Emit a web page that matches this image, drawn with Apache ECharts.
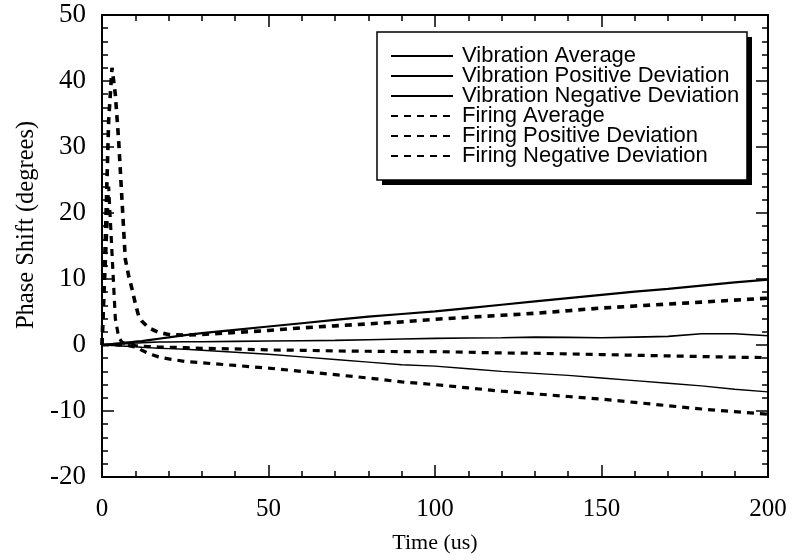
<!DOCTYPE html>
<html>
<head>
<meta charset="utf-8">
<script src="https://cdn.jsdelivr.net/npm/echarts@6/dist/echarts.min.js"></script>
<style>
  html, body { margin: 0; background: #fff; }
  #chart { width: 794px; height: 560px; }
</style>
</head>
<body>
<div id="chart"></div>
<script>
// time samples (us), shared by every series
var time = [0, 1, 2, 3, 4, 5, 6, 7, 8, 9, 10, 11, 12, 14, 17, 20, 25, 30, 40, 50,
            60, 70, 80, 90, 100, 110, 120, 130, 140, 150, 160, 170, 180, 190, 200];

// phase shift (degrees)
var vibAvg = [0, 0, 0.05, 0.1, 0.1, 0.15, 0.15, 0.2, 0.2, 0.25, 0.3, 0.3, 0.35, 0.4, 0.45, 0.45, 0.5, 0.5, 0.55, 0.6,
              0.65, 0.7, 0.8, 0.9, 1.0, 1.05, 1.1, 1.2, 1.15, 1.1, 1.2, 1.3, 1.7, 1.7, 1.4];
var vibPos = [0, 0.05, 0.1, 0.15, 0.2, 0.25, 0.3, 0.35, 0.4, 0.45, 0.5, 0.55, 0.6, 0.75, 0.95, 1.15, 1.5, 1.8, 2.3, 2.8,
              3.3, 3.8, 4.3, 4.7, 5.1, 5.6, 6.1, 6.6, 7.1, 7.6, 8.1, 8.5, 9.0, 9.5, 9.9];
var vibNeg = [0, -0.05, -0.05, -0.1, -0.1, -0.15, -0.15, -0.2, -0.2, -0.25, -0.25, -0.3, -0.35, -0.4, -0.5, -0.55, -0.65, -0.8, -1.1, -1.4,
              -1.8, -2.2, -2.6, -3.0, -3.2, -3.6, -4.0, -4.3, -4.6, -5.0, -5.4, -5.8, -6.2, -6.7, -7.1];
var firAvg = [0, 12, 24, 14, 4, 1.2, 0.4, 0.2, 0.1, 0, -0.1, -0.15, -0.2, -0.25, -0.3, -0.35, -0.4, -0.5, -0.6, -0.75,
              -0.8, -0.9, -0.95, -1.0, -1.0, -1.1, -1.2, -1.25, -1.35, -1.45, -1.55, -1.65, -1.75, -1.85, -1.9];
var firPos = [0, 16, 34, 42, 38, 31, 22, 13, 10.5, 8.5, 6.3, 4.4, 3.6, 2.6, 1.9, 1.6, 1.5, 1.6, 1.9, 2.2,
              2.6, 2.9, 3.2, 3.5, 3.9, 4.2, 4.5, 4.8, 5.2, 5.6, 5.9, 6.2, 6.5, 6.8, 7.1];
var firNeg = [0, 0, 0, 0, 0, 0, 0, 0, -0.1, -0.2, -0.3, -0.5, -0.8, -1.3, -1.8, -2.1, -2.5, -2.7, -3.1, -3.5,
              -4.0, -4.5, -5.0, -5.6, -6.0, -6.5, -7.0, -7.4, -7.8, -8.2, -8.7, -9.2, -9.7, -10.1, -10.5];

var names = ['Vibration Average', 'Vibration Positive Deviation', 'Vibration Negative Deviation',
             'Firing Average', 'Firing Positive Deviation', 'Firing Negative Deviation'];

function pairs(ys) {
    return time.map(function (t, i) { return [t, ys[i]]; });
}

function mkSeries(name, ys, width, dashed) {
    return {
        name: name,
        type: 'line',
        data: pairs(ys),
        symbol: 'none',
        animation: false,
        lineStyle: {
            color: '#000',
            width: width,
            type: dashed ? [7, 6] : 'solid'
        },
        itemStyle: { color: '#000' }
    };
}

var serif = 'Liberation Serif, Times New Roman, serif';

function xAx(pos, labels) {
    return {
        type: 'value', position: pos, min: 0, max: 200, interval: 50,
        axisLine: { onZero: false, lineStyle: { color: '#000', width: 2 } },
        axisTick: { inside: true, length: 12, lineStyle: { color: '#000', width: 1.5 } },
        minorTick: { show: true, splitNumber: 5, length: 6, lineStyle: { color: '#000', width: 1.5 } },
        splitLine: { show: false },
        axisLabel: { show: labels, color: '#000', fontFamily: serif, fontSize: 25, margin: 20 },
        name: labels ? 'Time (us)' : '',
        nameLocation: 'middle', nameGap: 55,
        nameTextStyle: { color: '#000', fontFamily: serif, fontSize: 22 }
    };
}

function yAx(pos, labels) {
    return {
        type: 'value', position: pos, min: -20, max: 50, interval: 10,
        axisLine: { onZero: false, lineStyle: { color: '#000', width: 2 } },
        axisTick: { inside: true, length: 12, lineStyle: { color: '#000', width: 1.5 } },
        minorTick: { show: true, splitNumber: 5, length: 6, lineStyle: { color: '#000', width: 1.5 } },
        splitLine: { show: false },
        axisLabel: { show: labels, color: '#000', fontFamily: serif, fontSize: 27, margin: 16 },
        name: labels ? 'Phase Shift (degrees)' : '',
        nameLocation: 'middle', nameGap: 58,
        nameTextStyle: { color: '#000', fontFamily: serif, fontSize: 24.5, padding: [0, 0, 0, 42] }
    };
}

var chart = echarts.init(document.getElementById('chart'));
var option = {
    backgroundColor: '#fff',
    animation: false,
    grid: { left: 102, right: 26, top: 15, bottom: 83, outerBoundsMode: 'none' },
    xAxis: [xAx('bottom', true), xAx('top', false)],
    yAxis: [yAx('left', true), yAx('right', false)],
    // legend frame with its hard drop shadow
    graphic: [
        { type: 'rect', z: 3, shape: { x: 382, y: 37, width: 370, height: 148 },
          style: { fill: '#000' } },
        { type: 'rect', z: 3, shape: { x: 377, y: 32, width: 370, height: 148 },
          style: { fill: '#fff', stroke: '#000', lineWidth: 1.5 } }
    ],
    legend: {
        orient: 'vertical',
        left: 377, top: 32,
        padding: [13, 10, 14, 13],
        itemWidth: 62,
        itemHeight: 12,
        itemGap: -2,
        itemStyle: { opacity: 0 },
        data: names,
        textStyle: {
            color: '#000', fontFamily: 'Liberation Sans, Arial, sans-serif',
            fontSize: 22, padding: [0, 0, 0, 4]
        }
    },
    series: [
        mkSeries(names[0], vibAvg, 1.6, false),
        mkSeries(names[1], vibPos, 2.2, false),
        mkSeries(names[2], vibNeg, 1.4, false),
        mkSeries(names[3], firAvg, 3.2, true),
        mkSeries(names[4], firPos, 3.6, true),
        mkSeries(names[5], firNeg, 3.2, true)
    ]
};
chart.setOption(option);

window.onresize = function () {
    chart.resize();
};
</script>
</body>
</html>
